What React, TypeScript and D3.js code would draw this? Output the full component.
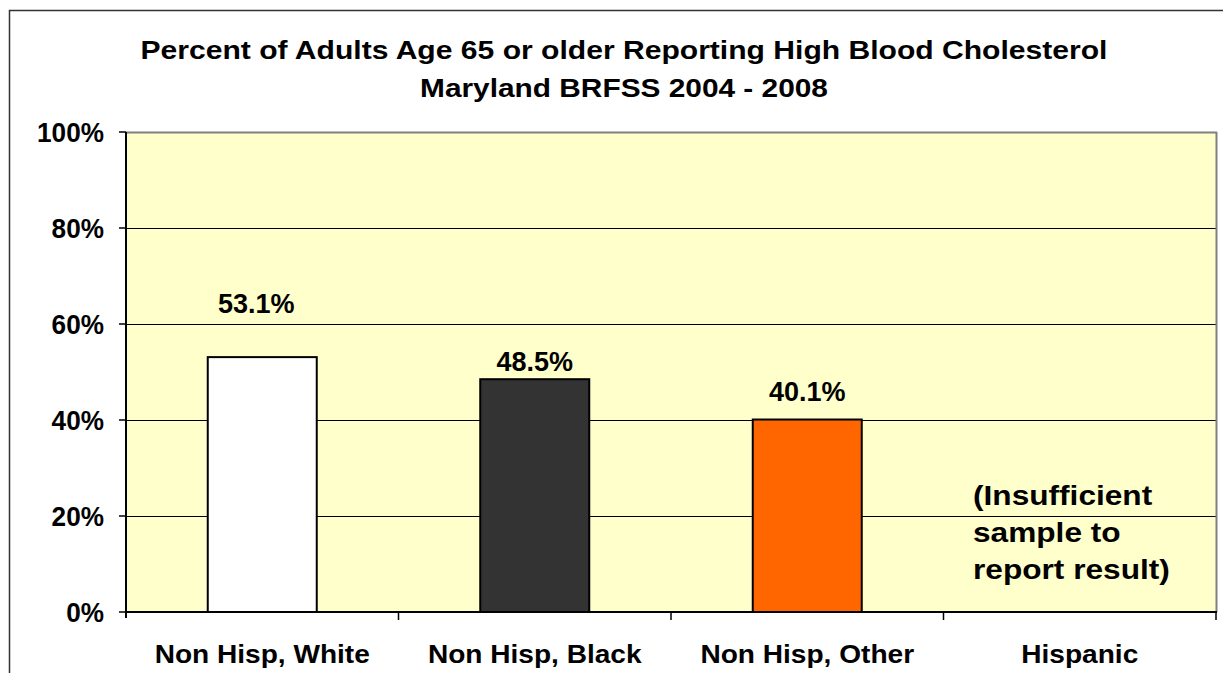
import React from 'react';
import * as d3 from 'd3';

// chart data
const categories = ['Non Hisp, White', 'Non Hisp, Black', 'Non Hisp, Other', 'Hispanic'];
const values = [53.1, 48.5, 40.1, null];
const barColors = ['#FFFFFF', '#333333', '#FF6600', '#FFFFFF'];
const yTicks = [0, 20, 40, 60, 80, 100];
const titleLines = [
  'Percent of Adults Age 65 or older Reporting High Blood Cholesterol',
  'Maryland BRFSS 2004 - 2008',
];
const noteLines = ['(Insufficient', 'sample to', 'report result)'];
// the value labels do not sit at the same distance above each bar
const labelGap = [44, 8, 19];
const labelShift = [-6, 0, 0];

const width = 1223;
const height = 673;
const plot = { left: 126, right: 1216, top: 132, bottom: 612 };
const font = '"Liberation Sans", Arial, sans-serif';

const SText = ({ x, y, size, sx = 1, anchor = 'middle', children }) => (
  <text
    transform={`translate(${x},${y}) scale(${sx},1)`}
    textAnchor={anchor}
    fontFamily={font}
    fontWeight="bold"
    fontSize={size}
    fill="#000"
  >
    {children}
  </text>
);

const App = () => {
  const x = d3.scaleBand().domain(categories).range([plot.left, plot.right]).paddingInner(0).paddingOuter(0);
  const y = d3.scaleLinear().domain([0, 100]).range([plot.bottom, plot.top]);
  const barW = x.bandwidth() * 0.4;
  const fmt = (v) => `${v.toFixed(1)}%`;

  return (
    <svg width={width} height={height} style={{ position: 'absolute', left: 0, top: 0 }}>
      <rect x={0} y={0} width={width} height={height} fill="#fff" />
      {/* outer chart border */}
      <rect x={9.5} y={10.5} width={width + 20} height={height + 20} fill="none" stroke="#333" strokeWidth={1.5} />

      {/* title */}
      <SText x={624} y={59} size={25.5} sx={1.18}>{titleLines[0]}</SText>
      <SText x={624} y={97} size={25.5} sx={1.17}>{titleLines[1]}</SText>

      {/* plot area */}
      <rect x={plot.left} y={plot.top} width={plot.right - plot.left} height={plot.bottom - plot.top} fill="#FFFFCC" />
      {yTicks.filter((t) => t > 0 && t < 100).map((t) => (
        <line key={t} x1={plot.left} x2={plot.right} y1={y(t) + 0.5} y2={y(t) + 0.5} stroke="#000" strokeWidth={1} />
      ))}
      <line x1={plot.left} x2={plot.right + 1} y1={plot.top + 0.5} y2={plot.top + 0.5} stroke="#808080" strokeWidth={2} />
      <line x1={plot.right + 0.5} x2={plot.right + 0.5} y1={plot.top} y2={plot.bottom} stroke="#808080" strokeWidth={2} />

      {/* bars */}
      {values.map((v, i) =>
        v == null ? null : (
          <rect
            key={categories[i]}
            x={x(categories[i]) + (x.bandwidth() - barW) / 2}
            y={y(v)}
            width={barW}
            height={y(0) - y(v)}
            fill={barColors[i]}
            stroke="#000"
            strokeWidth={2}
          />
        )
      )}
      {values.map((v, i) =>
        v == null ? null : (
          <SText
            key={'l' + i}
            x={x(categories[i]) + x.bandwidth() / 2 + labelShift[i]}
            y={y(v) - labelGap[i]}
            size={27}
            sx={1.0}
          >
            {fmt(v)}
          </SText>
        )
      )}

      {/* note for missing category */}
      {noteLines.map((t, i) => (
        <SText key={t} x={973} y={505 + i * 37} size={28} sx={1.13} anchor="start">{t}</SText>
      ))}

      {/* axes */}
      <line x1={plot.left} x2={plot.left} y1={plot.top} y2={plot.bottom + 6} stroke="#000" strokeWidth={2} />
      <line x1={plot.left} x2={plot.right + 1} y1={plot.bottom} y2={plot.bottom} stroke="#000" strokeWidth={2} />
      {yTicks.map((t) => (
        <g key={t}>
          <line x1={plot.left - 7} x2={plot.left} y1={y(t)} y2={y(t)} stroke="#000" strokeWidth={1.5} />
          <SText x={104} y={y(t) + 10} size={27} sx={0.97} anchor="end">{`${t}%`}</SText>
        </g>
      ))}
      {categories.map((c) => (
        <line key={c} x1={x(c) + x.bandwidth()} x2={x(c) + x.bandwidth()} y1={plot.bottom} y2={plot.bottom + 8} stroke="#000" strokeWidth={1.5} />
      ))}
      {categories.map((c) => (
        <SText key={c} x={x(c) + x.bandwidth() / 2} y={663} size={26} sx={1.08}>{c}</SText>
      ))}
    </svg>
  );
};

export default App;
